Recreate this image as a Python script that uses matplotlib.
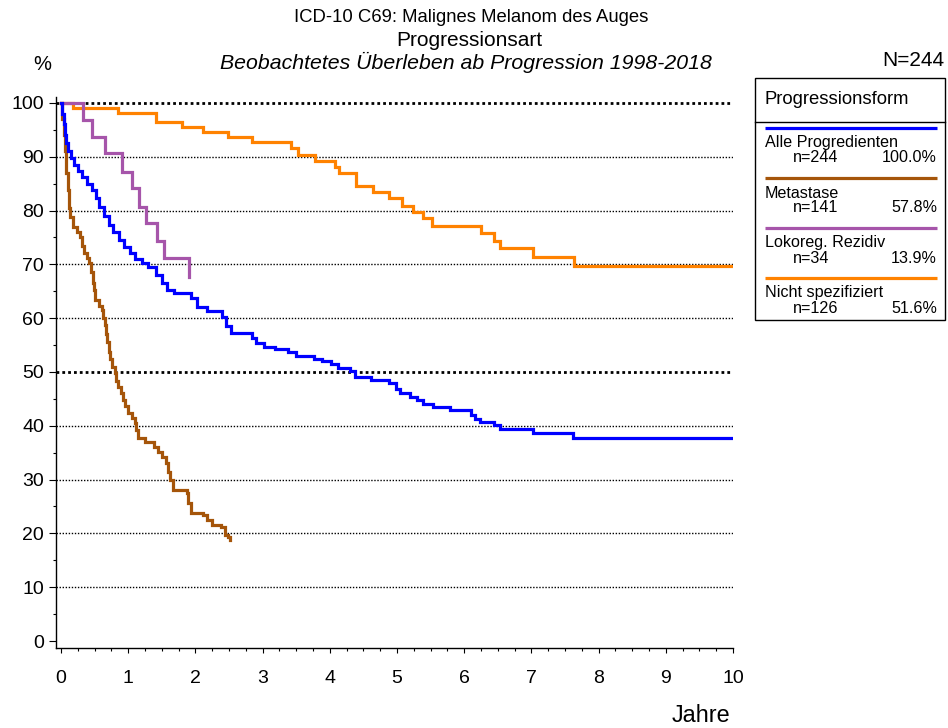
import matplotlib
matplotlib.use("Agg")
import matplotlib.pyplot as plt
from matplotlib.lines import Line2D
from matplotlib.patches import Rectangle
from matplotlib.ticker import MultipleLocator

plt.rcParams['font.family'] = ['Liberation Sans', 'DejaVu Sans']

# ---- data (drop time in years, survival % after drop) ----
alle_t = [0, 0.02, 0.04, 0.06, 0.08, 0.11, 0.15, 0.19, 0.25, 0.31, 0.39, 0.46, 0.52, 0.57,
          0.64, 0.71, 0.78, 0.86, 0.94, 1.02, 1.10, 1.20, 1.30, 1.42, 1.50, 1.58, 1.68, 1.94,
          2.02, 2.18, 2.40, 2.46, 2.53, 2.84, 2.90, 3.02, 3.18, 3.38, 3.50, 3.76, 3.88, 4.02,
          4.12, 4.30, 4.38, 4.62, 4.88, 4.98, 5.04, 5.20, 5.30, 5.39, 5.54, 5.79, 6.10, 6.16,
          6.24, 6.44, 6.53, 7.02, 7.62, 10.0]
alle_s = [100, 98, 96, 94, 92.5, 91, 89.8, 88.5, 87.3, 86.2, 85, 83.8, 82.3, 80.7,
          79, 77.4, 76, 74.6, 73.3, 72.1, 71, 70.2, 69.5, 68, 66.5, 65.2, 64.6, 63.8,
          62.1, 61.3, 60.2, 58.5, 57.2, 56.3, 55.4, 54.7, 54.2, 53.7, 53.0, 52.5, 52.0, 51.5,
          50.8, 50.1, 49.1, 48.5, 47.9, 46.8, 46.1, 45.4, 44.7, 44.1, 43.5, 42.9, 42.0, 41.3,
          40.7, 40.1, 39.4, 38.7, 37.8, 37.8]

meta_t = [0, 0.02, 0.04, 0.06, 0.08, 0.10, 0.12, 0.14, 0.18, 0.24, 0.28, 0.31, 0.34, 0.38,
          0.42, 0.45, 0.47, 0.49, 0.51, 0.56, 0.61, 0.63, 0.65, 0.67, 0.69, 0.71, 0.73, 0.76,
          0.80, 0.82, 0.85, 0.89, 0.92, 0.96, 1.00, 1.05, 1.10, 1.12, 1.15, 1.25, 1.38, 1.45,
          1.50, 1.57, 1.60, 1.62, 1.66, 1.88, 1.89, 1.94, 2.11, 2.17, 2.25, 2.38, 2.44, 2.49, 2.52]
meta_s = [100, 97, 94, 91, 87, 83.8, 80.5, 78.8, 77, 76, 75.1, 73.5, 72.1, 71.2,
          70.3, 68.5, 66.5, 65.2, 63.4, 62.3, 61.5, 60, 58.7, 57, 55.5, 53.8, 52.5, 51,
          49.8, 48.3, 47.2, 46, 44.8, 43.6, 42.4, 41.4, 40.5, 39.2, 37.7, 37.0, 36.1, 35.2,
          34.2, 33.1, 31.5, 29.9, 28.1, 27.5, 25.7, 23.8, 23.4, 22.5, 21.6, 21.2, 19.7, 19.3, 18.8]

loko_t = [0, 0.33, 0.46, 0.65, 0.91, 1.05, 1.16, 1.26, 1.43, 1.53, 1.90]
loko_s = [100, 96.8, 93.7, 90.7, 87.2, 84.2, 80.7, 77.7, 74.3, 71.2, 67.7]

nicht_t = [0, 0.18, 0.85, 1.42, 1.80, 2.12, 2.49, 2.84, 3.42, 3.52, 3.78, 4.08, 4.13, 4.39,
           4.64, 4.88, 5.07, 5.24, 5.39, 5.52, 6.25, 6.44, 6.53, 7.02, 7.63, 10.0]
nicht_s = [100, 99.1, 98.1, 96.5, 95.5, 94.6, 93.7, 92.8, 91.6, 90.4, 89.2, 88.1, 87.0, 84.6,
           83.5, 82.3, 80.9, 79.7, 78.6, 77.1, 75.8, 74.3, 73.0, 71.4, 69.6, 69.6]

series_names = ["Alle Progredienten", "Metastase", "Lokoreg. Rezidiv", "Nicht spezifiziert"]
series_n = ["n=244", "n=141", "n=34", "n=126"]
series_pct = ["100.0%", "57.8%", "13.9%", "51.6%"]
series_colors = ["#0000FF", "#A5550A", "#A655AA", "#FF8200"]

x_ticks = list(range(0, 11))
y_ticks = list(range(0, 101, 10))

W, H = 948, 728
fig = plt.figure(figsize=(W / 100, H / 100), dpi=100)

def fx(px):
    return px / W

def fy(py):
    return 1 - py / H

ax = fig.add_axes([fx(56), fy(648), fx(733) - fx(56), fy(97) - fy(648)])
ax.set_xlim(-0.074, 10.0)
ax.set_ylim(-1.3, 101.1)

# grid lines
for yv in y_ticks[1:]:
    if yv in (50, 100):
        ax.axhline(yv, color='black', lw=2.0, dashes=(1, 1.1), zorder=1)
    else:
        ax.axhline(yv, color='black', lw=1.0, dashes=(1, 1.2), zorder=1)

data = [(alle_t, alle_s), (meta_t, meta_s), (loko_t, loko_s), (nicht_t, nicht_s)]
order = [3, 2, 1, 0]
for i in order:
    t, s = data[i]
    ax.step(t, s, where='post', color=series_colors[i], lw=2.3, zorder=3 + (3 - i),
            solid_joinstyle='miter')

ax.spines['top'].set_visible(False)
ax.spines['right'].set_visible(False)
ax.spines['left'].set_linewidth(1.0)
ax.spines['bottom'].set_linewidth(1.0)

ax.set_xticks(x_ticks)
ax.set_yticks(y_ticks)
ax.xaxis.set_minor_locator(MultipleLocator(0.25))
ax.yaxis.set_minor_locator(MultipleLocator(5))
ax.tick_params(axis='y', which='major', length=5, width=0.8, direction='out', labelsize=14, pad=3.5)
ax.tick_params(axis='y', which='minor', length=2.5, width=0.8, direction='out')
ax.tick_params(axis='x', which='major', length=3.8, width=0.8, direction='out', labelsize=14, pad=12)
ax.tick_params(axis='x', which='minor', length=2.2, width=0.8, direction='out')

# titles
fig.text(fx(471), fy(18), "ICD-10 C69: Malignes Melanom des Auges", ha='center', va='center', fontsize=13.3)
fig.text(fx(469), fy(40), "Progressionsart", ha='center', va='center', fontsize=15)
fig.text(fx(466), fy(62), "Beobachtetes Überleben ab Progression 1998-2018", ha='center', va='center',
         fontsize=15.3, style='italic')
fig.text(fx(42), fy(64), "%", ha='center', va='center', fontsize=14.5)
fig.text(fx(913), fy(61), "N=244", ha='center', va='center', fontsize=15)
fig.text(fx(701), fy(716), "Jahre", ha='center', va='center', fontsize=16.8)

# legend box
fig.add_artist(Rectangle((fx(755), fy(320)), fx(945) - fx(755), fy(78) - fy(320),
                         transform=fig.transFigure, fill=False, edgecolor='black', lw=1.0))
fig.add_artist(Line2D([fx(755), fx(945)], [fy(122), fy(122)], transform=fig.transFigure,
                      color='black', lw=1.0))
fig.text(fx(765), fy(99), "Progressionsform", ha='left', va='center', fontsize=13.3)
for k in range(4):
    y0 = 128 + 50 * k
    fig.add_artist(Line2D([fx(765), fx(937)], [fy(y0), fy(y0)], transform=fig.transFigure,
                          color=series_colors[k], lw=2.3, solid_capstyle='butt'))
    fig.text(fx(765), fy(y0 + 15), series_names[k], ha='left', va='center', fontsize=11.6)
    fig.text(fx(793), fy(y0 + 30), series_n[k], ha='left', va='center', fontsize=11.6)
    fig.text(fx(937), fy(y0 + 30), series_pct[k], ha='right', va='center', fontsize=11.6)

fig.savefig("out.png", dpi=100)
